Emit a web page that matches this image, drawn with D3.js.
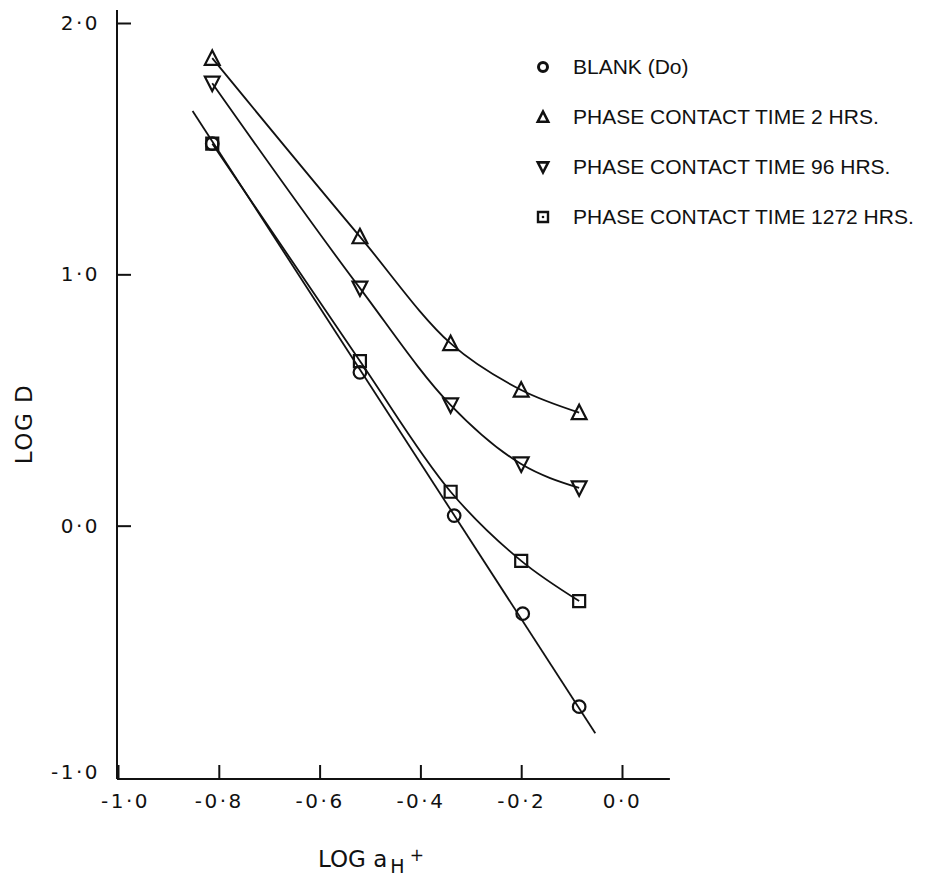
<!DOCTYPE html>
<html>
<head>
<meta charset="utf-8">
<script src="https://cdn.jsdelivr.net/npm/d3@7"></script>
<style>
	body { margin: 0; background: #fff; }
	svg { display: block; }
	.axis-title { font-family: "DejaVu Sans", sans-serif; fill: #111; }
	.legend-text { font-family: "Liberation Sans", Arial, sans-serif; font-size: 21px; fill: #111; }
</style>
</head>
<body>
<svg id="chart" width="928" height="876"></svg>
<script>

// log a(H+) of the measurements
const logAH = [-0.813, -0.52, -0.34, -0.2, -0.085];
const blankX = [-0.813, -0.52, -0.333, -0.197, -0.085];

// log D for each series
const blankD = [1.52, 0.61, 0.04, -0.35, -0.72];
const time2hD = [1.86, 1.15, 0.725, 0.54, 0.45];
const time96hD = [1.76, 0.945, 0.48, 0.245, 0.15];
const time1272hD = [1.52, 0.655, 0.135, -0.14, -0.30];

// straight line drawn through the blank points
const blankFitX = [-0.852, -0.053];
const blankFitY = [1.65, -0.826];

const xTicks = [-1.0, -0.8, -0.6, -0.4, -0.2, 0.0];
const yTicks = [-1.0, 0.0, 1.0, 2.0];

const legendLabels = [
	"BLANK (Do)",
	"PHASE CONTACT TIME 2 HRS.",
	"PHASE CONTACT TIME 96 HRS.",
	"PHASE CONTACT TIME 1272 HRS."
];

const svg = d3.select("#chart");

const x = d3.scaleLinear().domain([-1, 0]).range([118, 622]);
const y = d3.scaleLinear().domain([-1, 2]).range([777, 23]);

const axisY = 779;
const axisX = 117;
const fmt = d => (d < 0 ? "-" : "") + Math.abs(d).toFixed(1).replace(".", "\u00b7");

function styleTicks(g) {
	g.attr("font-size", null).attr("font-family", null);
	g.select(".domain").remove();
	g.selectAll(".tick line").attr("stroke", "#111").attr("stroke-width", 2);
	g.selectAll(".tick text")
		.attr("fill", "#111")
		.attr("font-family", "DejaVu Sans, sans-serif")
		.attr("font-size", 20)
		.attr("letter-spacing", 2.5);
}

// axis lines
svg.append("line")
	.attr("x1", axisX).attr("x2", axisX)
	.attr("y1", 10).attr("y2", axisY)
	.attr("stroke", "#111").attr("stroke-width", 2);
svg.append("line")
	.attr("x1", axisX).attr("x2", x(0.095))
	.attr("y1", axisY).attr("y2", axisY)
	.attr("stroke", "#111").attr("stroke-width", 2.2);

// x axis: ticks point up into the plot
const gx = svg.append("g")
	.attr("transform", `translate(0,${axisY})`)
	.call(d3.axisBottom(x).tickValues(xTicks).tickFormat(fmt)
		.tickSizeInner(-14).tickSizeOuter(0).tickPadding(15))
	.call(styleTicks);
gx.selectAll(".tick").filter(d => d === -1).select("text").attr("dx", 7);

// y axis: ticks point right
const gy = svg.append("g")
	.attr("transform", `translate(${axisX},0)`)
	.call(d3.axisLeft(y).tickValues(yTicks).tickFormat(fmt)
		.tickSizeInner(-14).tickSizeOuter(0).tickPadding(17))
	.call(styleTicks);
gy.selectAll(".tick").filter(d => d === -1).select("line").remove();
gy.selectAll(".tick").filter(d => d === -1).select("text").attr("dy", "0.05em");

// axis titles
svg.append("text")
	.attr("class", "axis-title")
	.attr("transform", "translate(24,424) rotate(-90)")
	.attr("text-anchor", "middle")
	.attr("dominant-baseline", "central")
	.attr("font-size", 23)
	.attr("letter-spacing", 1.5)
	.text("LOG D");

const xt = svg.append("text")
	.attr("class", "axis-title")
	.attr("x", 318).attr("y", 867)
	.attr("font-size", 23);
xt.append("tspan").text("LOG a");
xt.append("tspan").attr("font-size", 19).attr("dx", 3).attr("dy", 6).text("H");
xt.append("tspan").attr("font-size", 17).attr("dx", 5).attr("dy", -12).text("+");

// curves
const curve = d3.line()
	.x(d => x(d[0]))
	.y(d => y(d[1]))
	.curve(d3.curveMonotoneX);
const straight = d3.line()
	.x(d => x(d[0]))
	.y(d => y(d[1]));

const lines = svg.append("g")
	.attr("fill", "none")
	.attr("stroke", "#111")
	.attr("stroke-width", 1.8);

lines.append("path").attr("d", straight(d3.zip(blankFitX, blankFitY)));
lines.append("path").attr("d", curve(d3.zip(logAH, time2hD)));
lines.append("path").attr("d", curve(d3.zip(logAH, time96hD)));
lines.append("path").attr("d", curve(d3.zip(logAH, time1272hD)));

// marker shapes (centered on the bounding box)
const shapes = {
	circle: s => `M${s},0A${s},${s} 0 1,1 ${-s},0A${s},${s} 0 1,1 ${s},0Z`,
	up: s => `M0,${-s}L${s * 0.95},${s * 0.85}L${-s * 0.95},${s * 0.85}Z`,
	down: s => `M0,${s}L${s * 0.95},${-s * 0.85}L${-s * 0.95},${-s * 0.85}Z`,
	square: s => `M${-s},${-s}H${s}V${s}H${-s}Z`
};

function drawMarkers(xs, ys, shape, size) {
	svg.append("g")
		.selectAll("path")
		.data(d3.zip(xs, ys))
		.join("path")
		.attr("transform", d => `translate(${x(d[0])},${y(d[1])})`)
		.attr("d", shapes[shape](size))
		.attr("fill", "none")
		.attr("stroke", "#111")
		.attr("stroke-width", 2.2);
}

drawMarkers(blankX, blankD, "circle", 6.3);
drawMarkers(logAH, time2hD, "up", 7.8);
drawMarkers(logAH, time96hD, "down", 7.8);
drawMarkers(logAH, time1272hD, "square", 6);

// legend
const legendShapes = [["circle", 4.5, 3], ["up", 5.5, 2.6], ["down", 5.5, 2.6], ["square", 5, 2.4]];
const legend = svg.append("g");
legendLabels.forEach((label, i) => {
	const by = 74 + 50 * i;
	const [shape, size, sw] = legendShapes[i];
	legend.append("path")
		.attr("transform", `translate(543,${by - 7})`)
		.attr("d", shapes[shape](size))
		.attr("fill", "none")
		.attr("stroke", "#111")
		.attr("stroke-width", sw);
	if (shape === "square") {
		legend.append("circle").attr("cx", 543).attr("cy", by - 7).attr("r", 1.3).attr("fill", "#111");
	}
	legend.append("text")
		.attr("class", "legend-text")
		.attr("x", 573).attr("y", by)
		.text(label);
});

</script>
</body>
</html>
